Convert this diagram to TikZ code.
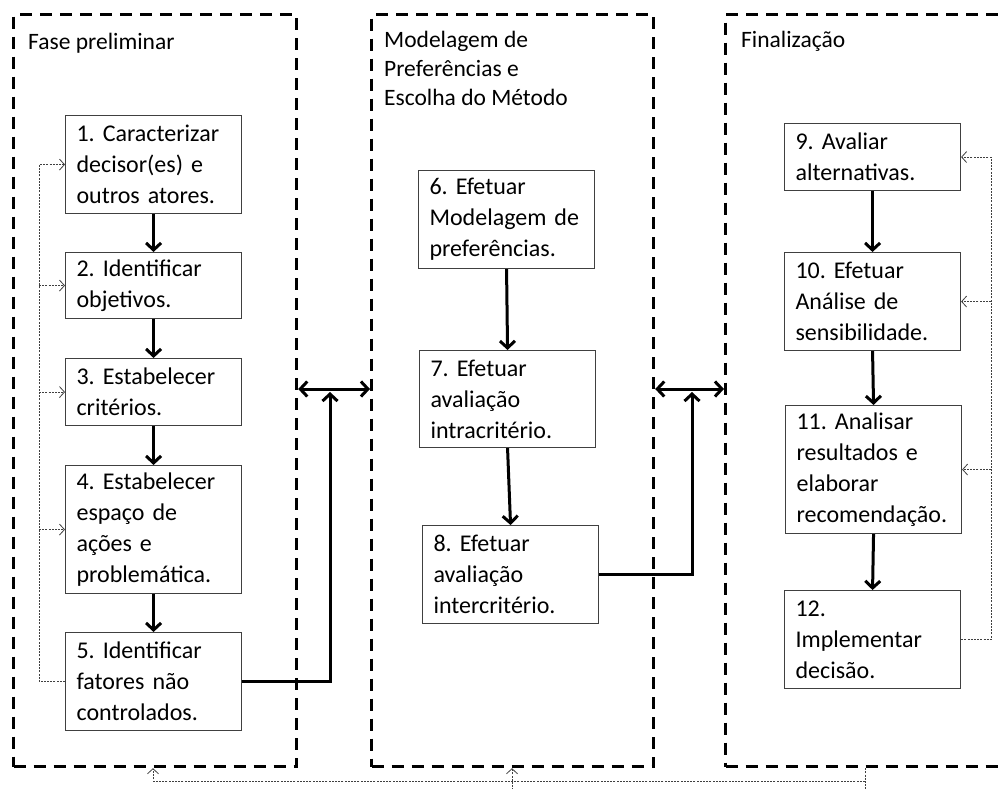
\documentclass[tikz,border=0pt]{standalone}
\usepackage{fontspec}
\setmainfont{Carlito}
\usetikzlibrary{arrows.meta}
\frenchspacing

\begin{document}
\begin{tikzpicture}[x=1pt, y=-1pt,
    every node/.style={font=\fontsize{24}{31}\selectfont},
    fase/.style={draw, line width=3.2pt, dash pattern=on 12pt off 8pt,
                 anchor=north west, inner sep=0pt},
    titulo/.style={anchor=base west, align=left, inner sep=0pt,
                   font=\fontsize{23.5}{29}\selectfont},
    passo/.style={draw=black!75, line width=1.1pt, anchor=north west,
                  text width=154pt, inner xsep=11pt, inner ysep=0pt, align=left},
    seta/.style={line width=3pt, -{Straight Barb[length=7pt, width=15pt]}},
    seta2/.style={line width=3pt, {Straight Barb[length=7pt, width=15pt]}-{Straight Barb[length=7pt, width=15pt]}},
    retro/.style={draw=black!75, line width=0.9pt, dash pattern=on 2pt off 1.2pt,
                  -{Straight Barb[length=5pt, width=11pt, line width=0.8pt]}},
  ]
  \useasboundingbox (0,0) rectangle (999,789);
  \clip (0,0) rectangle (999,789);

  % --- the three phases ---
  \node[fase, minimum width=283pt, minimum height=752pt] (fase1) at (12,13) {};
  \node[fase, minimum width=282pt, minimum height=752pt] (fase2) at (370,13) {};
  \node[fase, minimum width=300pt, minimum height=752pt] (fase3) at (724,13) {};
  \node[titulo] (t1) at (28,50) {Fase preliminar};
  % base of a multi-line title is its last line
  \node[titulo] (t2) at (384,106) {Modelagem de\\Preferências e\\Escolha do Método};
  \node[titulo] (t3) at (741,48) {Finalização};

  % --- fase preliminar ---
  \node[passo, minimum height=98pt] (p1) at (65,115) {1. Caracterizar\\decisor(es) e\\outros atores.};
  \node[passo, minimum height=66pt] (p2) at (65,252) {2. Identificar\\objetivos.};
  \node[passo, minimum height=67pt] (p3) at (65,358) {3. Estabelecer\\critérios.};
  \node[passo, minimum height=128pt] (p4) at (65,465) {4. Estabelecer\\espaço de\\ações e\\problemática.};
  \node[passo, minimum height=98pt] (p5) at (65,632) {5. Identificar\\fatores não\\controlados.};

  % --- modelagem ---
  \node[passo, minimum height=98pt] (p6) at (418,170) {6. Efetuar\\Modelagem de\\preferências.};
  \node[passo, minimum height=97pt] (p7) at (419,350) {7. Efetuar\\avaliação\\intracritério.};
  \node[passo, minimum height=98pt] (p8) at (422,525) {8. Efetuar\\avaliação\\intercritério.};

  % --- finalizacao ---
  \node[passo, minimum height=67pt] (p9) at (784,123) {9. Avaliar\\alternativas.};
  \node[passo, minimum height=98pt] (p10) at (784,252) {10. Efetuar\\Análise de\\sensibilidade.};
  \node[passo, minimum height=128pt] (p11) at (785,405) {11. Analisar\\resultados e\\elaborar\\recomendação.};
  \node[passo, minimum height=98pt] (p12) at (784,590) {12.\\Implementar\\decisão.};

  % sequence arrows
  \foreach \a/\b in {p1/p2, p2/p3, p3/p4, p4/p5, p6/p7, p7/p8, p9/p10, p10/p11, p11/p12} {
    \draw[seta] (\a.south) -- (\b.north);
  }

  % links between phases
  \coordinate (m) at (0,389);
  \coordinate (s1) at (330,392);
  \coordinate (s2) at (692,392);
  \draw[seta2] (fase1.east |- m) -- (fase2.west |- m);
  \draw[seta2] (fase2.east |- m) -- (fase3.west |- m);
  \draw[seta] (p5.east) -| (s1);
  \draw[seta] (p8.east) -| (s2);

  % feedback, left
  \draw[retro] (p5.west) -- ++(-26,0) coordinate (e1) -- (e1 |- p1.west) -- (p1.west);
  \foreach \p in {p2, p3, p4} {
    \draw[retro] (e1 |- \p.west) -- (\p.west);
  }

  % feedback, right
  \draw[retro] (p12.east) -- ++(30,0) coordinate (e2) -- (e2 |- p9.east) -- (p9.east);
  \foreach \p in {p10, p11} {
    \draw[retro] (e2 |- \p.east) -- (\p.east);
  }

  % feedback, bottom
  \coordinate (b1) at (153,781);
  \coordinate (b2) at (512,800);
  \coordinate (b3) at (865,781);
  \draw[retro, -] (fase3.south -| b3) -- ++(0,30);
  \draw[retro] (b3) -- (b1) -- (fase1.south -| b1);
  \draw[retro] (b2) -- (fase2.south -| b2);
\end{tikzpicture}
\end{document}
